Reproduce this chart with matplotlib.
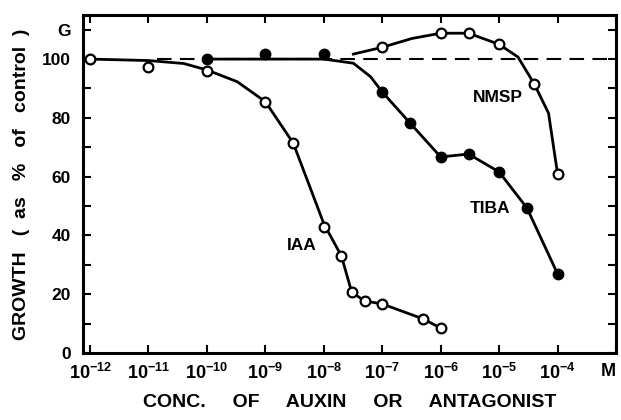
import numpy as np
import matplotlib
matplotlib.use("Agg")
import matplotlib.pyplot as plt
from matplotlib.ticker import FixedLocator, NullLocator

# fonts: bold sans everywhere, mathtext for the powers of ten
plt.rcParams['font.family'] = ['Liberation Sans', 'DejaVu Sans']
plt.rcParams['font.weight'] = 'bold'
plt.rcParams['axes.labelweight'] = 'bold'
plt.rcParams['mathtext.fontset'] = 'custom'
plt.rcParams['mathtext.rm'] = 'Liberation Sans:bold'
plt.rcParams['mathtext.bf'] = 'Liberation Sans:bold'

# IAA - measured points (open circles) and drawn curve
iaa_conc = [1e-12, 1e-11, 1e-10, 1e-9, 3e-9, 1e-8, 2e-8, 3e-8, 5e-8, 1e-7, 5e-7, 1e-6]
iaa_growth = [100, 97.3, 96, 85.5, 71.4, 43, 33, 20.7, 17.7, 16.7, 11.6, 8.5]
iaa_curve_conc = [1e-12, 1e-11, 4e-11, 1e-10, 3.3e-10, 1e-9, 3e-9, 1e-8, 2e-8, 3e-8, 5e-8, 1e-7, 5e-7, 1e-6]
iaa_curve_growth = [100, 99.5, 98.5, 96.3, 92.3, 85.5, 71.4, 44, 33, 20.7, 17.7, 16.7, 11.6, 8.5]

# TIBA - filled circles
tiba_conc = [1e-10, 1e-9, 1e-8, 1e-7, 3e-7, 1e-6, 3e-6, 1e-5, 3e-5, 1e-4]
tiba_growth = [100, 101.7, 101.7, 88.8, 78.2, 66.7, 67.7, 61.6, 49.3, 26.9]
tiba_curve_conc = [1e-10, 1e-8, 3.2e-8, 6.3e-8, 1e-7, 3e-7, 1e-6, 3e-6, 1e-5, 3e-5, 1e-4]
tiba_curve_growth = [100, 100, 98.6, 94, 88.8, 78.2, 66.7, 67.7, 61.6, 49.3, 26.9]

# NMSP - open circles
nmsp_conc = [1e-7, 1e-6, 3e-6, 1e-5, 4e-5, 1e-4]
nmsp_growth = [104, 108.8, 108.8, 105, 91.5, 60.9]
nmsp_curve_conc = [3.2e-8, 1e-7, 3.2e-7, 1e-6, 3e-6, 1e-5, 2.1e-5, 4e-5, 7e-5, 1e-4]
nmsp_curve_growth = [101.7, 104, 107, 108.8, 108.8, 105, 100.7, 91.5, 81.6, 60.9]

# control level (dashed)
control_conc = [1.4e-11, 1e-3]
control_growth = [100, 100]

# axis ticks
x_ticks = [1e-12, 1e-11, 1e-10, 1e-9, 1e-8, 1e-7, 1e-6, 1e-5, 1e-4, 1e-3]
x_labels = [r'$\mathbf{10^{-12}}$', r'$\mathbf{10^{-11}}$', r'$\mathbf{10^{-10}}$', r'$\mathbf{10^{-9}}$',
            r'$\mathbf{10^{-8}}$', r'$\mathbf{10^{-7}}$', r'$\mathbf{10^{-6}}$', r'$\mathbf{10^{-5}}$',
            r'$\mathbf{10^{-4}}$', 'M']
y_ticks = [0, 20, 40, 60, 80, 100, 110]
y_labels = ['0', '20', '40', '60', '80', '100', 'G']
y_minor = [10, 30, 50, 70, 90]

fig = plt.figure(figsize=(6.21, 4.2), dpi=100)
ax = fig.add_axes([0.1337, 0.1595, 0.8583, 0.8048])

ax.plot(control_conc, control_growth, color='black', lw=1.5, linestyle=(0, (7, 4)))
ax.plot(iaa_curve_conc, iaa_curve_growth, color='black', lw=2)
ax.plot(tiba_curve_conc, tiba_curve_growth, color='black', lw=2)
ax.plot(nmsp_curve_conc, nmsp_curve_growth, color='black', lw=2)
ax.plot(iaa_conc, iaa_growth, 'o', ms=7, mfc='white', mec='black', mew=1.6)
ax.plot(nmsp_conc, nmsp_growth, 'o', ms=7, mfc='white', mec='black', mew=1.6)
ax.plot(tiba_conc, tiba_growth, 'o', ms=7.5, mfc='black', mec='black')

# curve labels
ax.text(4.2e-9, 36.7, 'IAA', fontsize=12.5, ha='center', va='center')
ax.text(6.9e-6, 49.3, 'TIBA', fontsize=12.5, ha='center', va='center')
ax.text(9.5e-6, 87, 'NMSP', fontsize=12.5, ha='center', va='center')

ax.set_xscale('log')
ax.set_xlim(10 ** -12.12, 1e-3)
ax.set_ylim(0, 115)
ax.xaxis.set_major_locator(FixedLocator(x_ticks))
ax.xaxis.set_minor_locator(NullLocator())
ax.set_xticklabels(x_labels)
ax.set_yticks(y_ticks)
ax.set_yticklabels(y_labels)
ax.set_yticks(y_minor, minor=True)

ax.tick_params(axis='both', which='both', direction='in', top=True, right=True, width=1.5, color='black')
ax.tick_params(axis='both', which='both', length=6)
ax.tick_params(axis='x', labelsize=13, pad=7)
ax.tick_params(axis='y', labelsize=12.5, pad=9)
ax.get_xticklabels()[-1].set_horizontalalignment('right')  # keep "M" inside the figure
for s in ax.spines.values():
    s.set_linewidth(2.2)

ax.set_xlabel('CONC.     OF     AUXIN     OR     ANTAGONIST', fontsize=14, labelpad=8)
ax.set_ylabel('GROWTH   (  as   %   of   control  )', fontsize=14, labelpad=8)

plt.savefig('out.png', dpi=100)
